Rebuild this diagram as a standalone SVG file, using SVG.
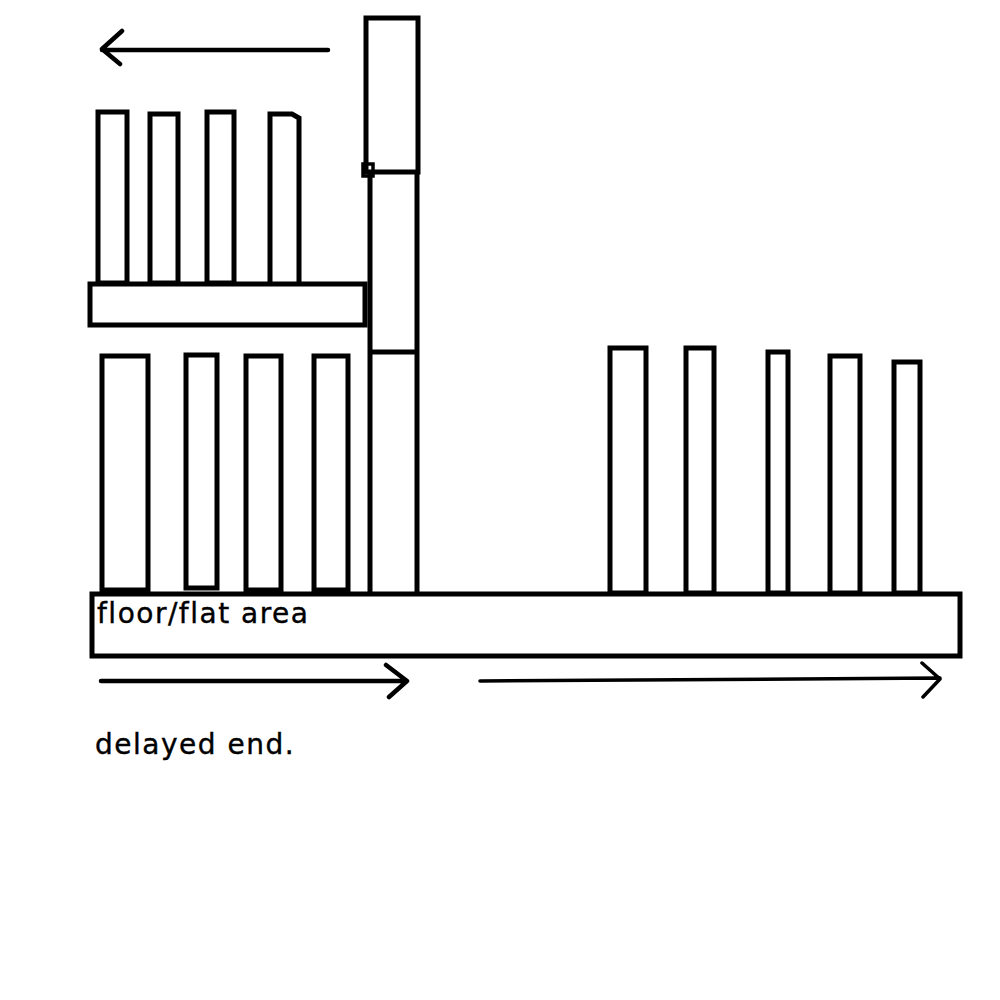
<svg xmlns="http://www.w3.org/2000/svg" width="1000" height="1000" viewBox="0 0 1000 1000">
<style>
.s{fill:none;stroke:#000;stroke-width:5;stroke-linejoin:miter}
.t{fill:none;stroke:#000;stroke-width:3.5;stroke-linecap:round;stroke-linejoin:round}
.a{fill:none;stroke:#000;stroke-width:4.5;stroke-linecap:round;stroke-linejoin:round}
.l{font-family:"DejaVu Sans",Verdana,sans-serif;font-size:28px;letter-spacing:1.5px;fill:#000;stroke:#000;stroke-width:0.4}
</style>
<rect width="1000" height="1000" fill="#fff"/>
<g id="tall-post">
<rect class="s" x="366" y="18" width="52" height="154"/>
<path class="s" d="M370,172 V593 M417,172 V593 M370,352 H418"/>
<rect x="363" y="164" width="10" height="12" fill="none" stroke="#000" stroke-width="3.5"/>
</g>
<g id="upper-comb">
<rect class="s" x="98" y="112" width="29" height="171"/>
<rect class="s" x="150" y="114" width="28" height="169"/>
<rect class="s" x="207" y="112" width="27" height="171"/>
<path class="s" d="M270,283 V114 H292 L299,118 V283"/>
<rect class="s" x="90" y="284" width="275" height="41"/>
</g>
<g id="lower-left-posts">
<rect class="s" x="102" y="356" width="46" height="234"/>
<rect class="s" x="186" y="355" width="31" height="233"/>
<rect class="s" x="246" y="356" width="35" height="234"/>
<rect class="s" x="314" y="356" width="34" height="234"/>
</g>
<g id="right-posts">
<rect class="s" x="610" y="348" width="36" height="245"/>
<rect class="s" x="686" y="348" width="28" height="245"/>
<rect class="s" x="768" y="352" width="20" height="241"/>
<rect class="s" x="830" y="356" width="30" height="237"/>
<rect class="s" x="894" y="362" width="26" height="231"/>
</g>
<g id="floor">
<rect x="92" y="594" width="868" height="62" fill="none" stroke="#000" stroke-width="5"/>
<text class="l" x="97" y="623">floor/flat area</text>
</g>
<g id="connectors">
<path class="a" d="M328,50 H102 M122,31 L102,49 L120,64"/>
<path class="a" d="M101,681 H406 M386,665 L407,681 L389,697"/>
<path class="t" d="M480,681 L940,678 M922,663 L940,679 L923,697"/>
</g>
<text class="l" x="95" y="754">delayed end.</text>
</svg>
